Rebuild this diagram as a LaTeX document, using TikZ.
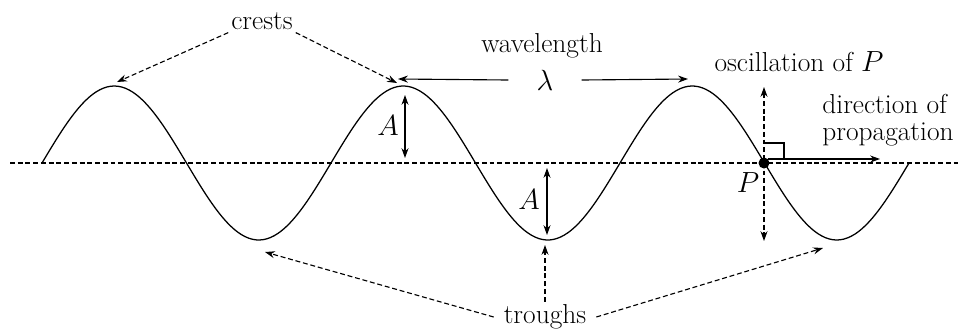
\documentclass[tikz,border=0pt]{standalone}
\usetikzlibrary{arrows.meta}
\tikzset{
  lbl/.style={font=\fontsize{19.5}{19.5}\selectfont,inner sep=2pt},
  dashline/.style={line width=.8pt,dash pattern=on 3.5pt off 2pt},
  dasharr/.style={dashline,->},
  solarr/.style={line width=.8pt,->},
}
\begin{document}
\begin{tikzpicture}[x=.025cm,y=.025cm,>={Stealth[length=7pt,width=5pt]}]
\useasboundingbox (0,-169) rectangle (961,163);
% axis and wave
\draw[dashline] (10,0)--(961,0);
\draw[line width=.9pt,samples=240,domain=42:909,smooth,variable=\x]
  plot (\x,{77*sin((\x-42)/289*360)});
% points on the wave
\coordinate (c1) at (117,81);
\coordinate (c2) at (397,80);
\coordinate (w1) at (398,84);
\coordinate (w2) at (688,84);
\coordinate (t1) at (265,-89);
\coordinate (t2) at (545,-82);
\coordinate (t3) at (823,-85);
\coordinate (P) at (764,0);
\coordinate (ptop) at (764,76);
\coordinate (pbot) at (764,-78);
\coordinate (pr0) at (768,4);
\coordinate (prop) at (880,4);
% labels
\node[lbl] (crests) at (262,142) {crests};
\node[lbl] (wl) at (542,117) {wavelength};
\node[lbl,inner xsep=20pt] (lambda) at (545,83) {$\lambda$};
\node[lbl] (osc) at (799,101) {oscillation of $P$};
\node[lbl,align=left] (dir) at (888,43) {direction of\\propagation};
\node[lbl,inner xsep=7pt] (troughs) at (545,-154) {troughs};
\node[lbl] (pl) at (748,-20) {$P$};
\node[lbl] (a1) at (388,37) {$A$};
\node[lbl] (a2) at (529,-37) {$A$};
% crests and troughs
\draw[dasharr] (crests.south west)--(c1);
\draw[dasharr] (crests.south east)--(c2);
\draw[dasharr] (troughs.west)--(t1);
\draw[dasharr] (troughs.north)--(t2);
\draw[dasharr] (troughs.east)--(t3);
% wavelength
\draw[solarr] (lambda.west)--(w1);
\draw[solarr] (lambda.east)--(w2);
% amplitude
\draw[solarr,<->] (405,68)--(405,5);
\draw[solarr,<->] (547,-5)--(547,-72);
% point P
\draw[dasharr,<->] (ptop)--(pbot);
\draw[line width=.8pt] (764,20)--(784,20)--(784,4);
\draw[solarr] (pr0)--(prop);
\fill (P) circle (5.5);
\end{tikzpicture}
\end{document}
